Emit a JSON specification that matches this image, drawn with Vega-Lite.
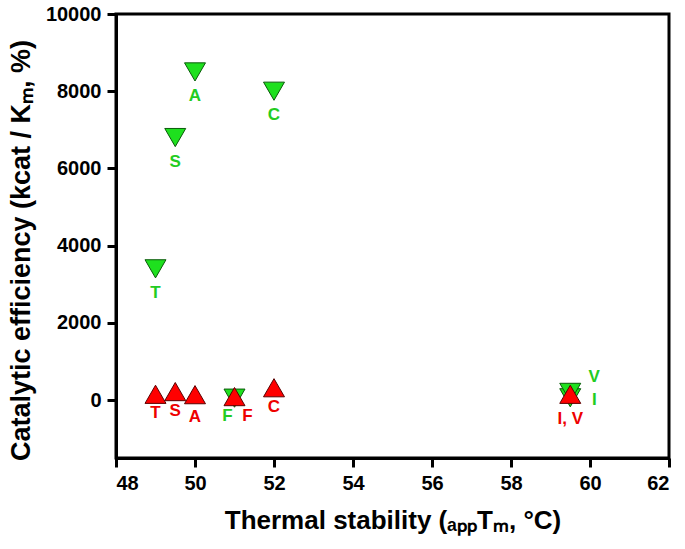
{
  "$schema": "https://vega.github.io/schema/vega-lite/v6.json",
  "width": 553,
  "height": 444,
  "autosize": {"type": "none"},
  "padding": {"left": 116, "top": 14, "right": 16, "bottom": 91},
  "background": "white",
  "config": {
    "view": {"stroke": "black", "strokeWidth": 3},
    "axis": {
      "grid": false,
      "domainColor": "black",
      "domainWidth": 3,
      "tickColor": "black",
      "tickWidth": 3,
      "tickSize": 9,
      "labelFont": "Liberation Sans",
      "labelFontWeight": "bold",
      "labelFontSize": 20,
      "labelColor": "black",
      "titleFont": "Liberation Sans",
      "titleFontWeight": "bold",
      "titleColor": "black"
    }
  },
  "data": {
    "values": [
      {"series": "green", "x": 49, "y": 3400, "label": "T"},
      {"series": "green", "x": 49.5, "y": 6800, "label": "S"},
      {"series": "green", "x": 50, "y": 8500, "label": "A"},
      {"series": "green", "x": 52, "y": 8000, "label": "C"},
      {"series": "green", "x": 51, "y": 50, "label": "F"},
      {"series": "green", "x": 59.5, "y": 60, "label": "I"},
      {"series": "green", "x": 59.5, "y": 200, "label": "V"},
      {"series": "red", "x": 49, "y": 150, "label": "T"},
      {"series": "red", "x": 49.5, "y": 220, "label": "S"},
      {"series": "red", "x": 50, "y": 140, "label": "A"},
      {"series": "red", "x": 51, "y": 90, "label": "F"},
      {"series": "red", "x": 52, "y": 320, "label": "C"},
      {"series": "red", "x": 59.5, "y": 150, "label": "I, V"}
    ]
  },
  "encoding": {
    "x": {
      "field": "x", "type": "quantitative",
      "scale": {"domain": [48, 62], "nice": false, "zero": false},
      "axis": {"values": [48, 50, 52, 54, 56, 58, 60, 62], "format": "d", "labelPadding": 6, "titlePadding": 14,
               "titleFontSize": 26,
               "title": "Thermal stability (ₐₚₚTₘ, °C)"}
    },
    "y": {
      "field": "y", "type": "quantitative",
      "scale": {"domain": [-1500, 10000], "nice": false, "zero": false},
      "axis": {"values": [0, 2000, 4000, 6000, 8000, 10000], "format": "d", "labelPadding": 6, "titlePadding": 10,
               "titleFontSize": 27, "titleY": 236,
               "title": "Catalytic efficiency (kcat / Kₘ, %)"}
    }
  },
  "layer": [
    {
      "transform": [{"filter": "datum.series === 'green'"}],
      "mark": {"type": "point", "shape": "triangle-down", "size": 440, "filled": true, "fill": "#1ee01e", "stroke": "#0a5a0a", "strokeWidth": 1, "opacity": 1}
    },
    {
      "transform": [{"filter": "datum.series === 'red'"}],
      "mark": {"type": "point", "shape": "triangle-up", "size": 440, "filled": true, "fill": "#ff0000", "stroke": "#5a0000", "strokeWidth": 1, "opacity": 1}
    },
    {
      "transform": [{"filter": "datum.series === 'green' && indexof(['T','S','A','C'], datum.label) >= 0"}],
      "mark": {"type": "text", "dy": 24, "font": "Liberation Sans", "fontWeight": "bold", "fontSize": 17, "color": "#22cc22", "baseline": "middle"},
      "encoding": {"text": {"field": "label"}}
    },
    {
      "transform": [{"filter": "datum.series === 'green' && datum.label === 'F'"}],
      "mark": {"type": "text", "dx": -7, "dy": 18, "font": "Liberation Sans", "fontWeight": "bold", "fontSize": 17, "color": "#22cc22", "baseline": "middle"},
      "encoding": {"text": {"field": "label"}}
    },
    {
      "transform": [{"filter": "datum.series === 'green' && datum.label === 'V'"}],
      "mark": {"type": "text", "dx": 24, "dy": -15, "font": "Liberation Sans", "fontWeight": "bold", "fontSize": 17, "color": "#22cc22", "baseline": "middle"},
      "encoding": {"text": {"field": "label"}}
    },
    {
      "transform": [{"filter": "datum.series === 'green' && datum.label === 'I'"}],
      "mark": {"type": "text", "dx": 24, "dy": 2, "font": "Liberation Sans", "fontWeight": "bold", "fontSize": 17, "color": "#22cc22", "baseline": "middle"},
      "encoding": {"text": {"field": "label"}}
    },
    {
      "transform": [{"filter": "datum.series === 'red' && indexof(['T','S','C'], datum.label) >= 0"}],
      "mark": {"type": "text", "dy": 19, "font": "Liberation Sans", "fontWeight": "bold", "fontSize": 17, "color": "#ee0000", "baseline": "middle"},
      "encoding": {"text": {"field": "label"}}
    },
    {
      "transform": [{"filter": "datum.series === 'red' && datum.label === 'A'"}],
      "mark": {"type": "text", "dy": 22, "font": "Liberation Sans", "fontWeight": "bold", "fontSize": 17, "color": "#ee0000", "baseline": "middle"},
      "encoding": {"text": {"field": "label"}}
    },
    {
      "transform": [{"filter": "datum.series === 'red' && datum.label === 'F'"}],
      "mark": {"type": "text", "dx": 13, "dy": 19, "font": "Liberation Sans", "fontWeight": "bold", "fontSize": 17, "color": "#ee0000", "baseline": "middle"},
      "encoding": {"text": {"field": "label"}}
    },
    {
      "transform": [{"filter": "datum.series === 'red' && datum.label === 'I, V'"}],
      "mark": {"type": "text", "dy": 25, "font": "Liberation Sans", "fontWeight": "bold", "fontSize": 17, "color": "#ee0000", "baseline": "middle"},
      "encoding": {"text": {"field": "label"}}
    }
  ]
}
